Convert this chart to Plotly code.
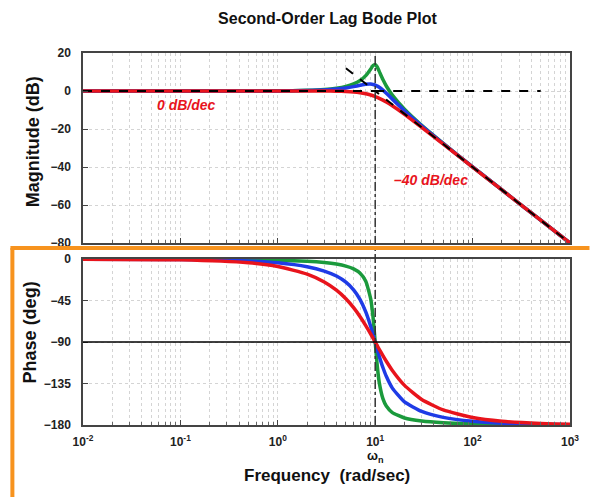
import plotly.graph_objects as go

# ---------------- data ----------------
freq = [0.01, 0.1, 0.5, 1, 2, 3, 4, 5, 6, 7, 8, 9, 9.5, 10, 10.5, 11, 12, 13,
        15, 20, 30, 50, 100, 200, 500, 1000]

mag_green = [0, 0, 0.02, 0.09, 0.35, 0.80, 1.48, 2.42, 3.73, 5.53, 8.09, 11.64,
             13.41, 13.98, 12.63, 10.34, 6.00, 2.65, -2.18, -9.62, -18.09, -27.6,
             -39.9, -52.0, -67.96, -80.0]
mag_blue = [0, 0, 0.02, 0.07, 0.26, 0.59, 1.06, 1.64, 2.32, 3.01, 3.53, 3.63,
            3.45, 3.10, 2.59, 1.96, 0.46, -1.15, -4.26, -10.40, -18.35, -27.70,
            -39.93, -52.02, -67.96, -80.0]
mag_red = [0, 0, 0, 0, 0, -0.02, -0.08, -0.22, -0.47, -0.87, -1.41, -2.10,
           -2.50, -2.92, -3.37, -3.83, -4.79, -5.78, -7.76, -12.26, -19.12,
           -27.96, -40.0, -52.04, -67.96, -80.0]

phase_green = [-0.01, -0.11, -0.57, -1.16, -2.39, -3.77, -5.44, -7.60, -10.62,
               -15.35, -23.96, -43.45, -62.8, -90.0, -116.0, -133.7, -151.4,
               -159.4, -166.5, -172.4, -175.7, -177.6, -178.8, -179.43, -179.77,
               -179.89]
phase_blue = [-0.04, -0.40, -2.0, -4.04, -8.3, -13.0, -18.4, -25.0, -33.3, -43.9,
              -57.3, -73.2, -81.7, -90.0, -97.9, -105.3, -117.65, -127.2, -140.0,
              -155.0, -165.3, -171.7, -175.96, -178.0, -179.2, -179.6]
phase_red = [-0.08, -0.80, -4.0, -8.05, -16.3, -24.8, -33.7, -43.0, -52.7, -62.5,
             -72.2, -81.4, -85.8, -90.0, -94.0, -97.8, -104.7, -110.8, -120.8,
             -137.0, -152.3, -163.7, -171.95, -176.0, -178.4, -179.2]

asym_w = [0.01, 10, 1000]
asym_db = [0, 0, -80]
flat_ext_w = [10, 500]
flat_ext_db = [0, 0]
slope_ext_w = [5, 10]
slope_ext_db = [12, 0]

wn = 10
x_tickvals = [0.01, 0.1, 1, 10, 100, 1000]
x_ticktext = ["10<sup>-2</sup>", "10<sup>-1</sup>", "10<sup>0</sup>",
              "10<sup>1</sup>", "10<sup>2</sup>", "10<sup>3</sup>"]
mag_ticks = [20, 0, -20, -40, -60, -80]
phase_ticks = [0, -45, -90, -135, -180]

# ---------------- styling ----------------
GREEN = "#1b9a3c"
BLUE = "#1f3be6"
RED = "#e8141c"
ORANGE = "#f7931e"
FONT = "Liberation Sans"
LW = 3.5

fig = go.Figure()

for y, c in [(mag_green, GREEN), (mag_blue, BLUE), (mag_red, RED)]:
    fig.add_trace(go.Scatter(x=freq, y=y, mode="lines", xaxis="x", yaxis="y",
                             line=dict(color=c, width=LW, shape="spline", smoothing=0.5),
                             showlegend=False, hoverinfo="skip"))
for xs, ys in [(asym_w, asym_db), (flat_ext_w, flat_ext_db), (slope_ext_w, slope_ext_db)]:
    fig.add_trace(go.Scatter(x=xs, y=ys, mode="lines", xaxis="x", yaxis="y",
                             line=dict(color="black", width=2, dash="dash"),
                             showlegend=False, hoverinfo="skip"))

for y, c in [(phase_green, GREEN), (phase_blue, BLUE), (phase_red, RED)]:
    fig.add_trace(go.Scatter(x=freq, y=y, mode="lines", xaxis="x2", yaxis="y2",
                             line=dict(color=c, width=LW, shape="spline", smoothing=0.5),
                             showlegend=False, hoverinfo="skip"))

grid = dict(showgrid=True, gridcolor="#d4d4d4", griddash="dot", gridwidth=1)
axis_common = dict(showline=True, linecolor="#444", linewidth=1.5, mirror=True,
                   ticks="inside", ticklen=5, tickcolor="#444", zeroline=False,
                   tickfont=dict(family=FONT, size=12, color="#222", weight="bold"),
                   **grid)
minor_x = dict(dtick="D1", showgrid=True, gridcolor="#d4d4d4", griddash="dot",
               ticks="inside", ticklen=3, tickcolor="#666")

fig.update_layout(
    width=591, height=497,
    margin=dict(l=83, r=19, t=53, b=72),
    paper_bgcolor="white", plot_bgcolor="white",
    title=dict(text="Second-Order Lag Bode Plot", x=0.554, xanchor="center",
               y=0.963, yanchor="middle",
               font=dict(family=FONT, size=16, color="#111", weight="bold")),
    xaxis=dict(type="log", range=[-2, 3], domain=[0, 1], anchor="y",
               tickvals=x_tickvals, ticktext=x_ticktext, showticklabels=False,
               minor=minor_x, **axis_common),
    yaxis=dict(range=[-80, 20], domain=[0.489, 1], anchor="x",
               tickvals=mag_ticks, ticklabelstandoff=8, **axis_common),
    xaxis2=dict(type="log", range=[-2, 3], domain=[0, 1], anchor="y2",
                tickvals=x_tickvals, ticktext=x_ticktext, minor=minor_x,
                ticklabelstandoff=5, **axis_common),
    yaxis2=dict(range=[-180, 0], domain=[0, 0.446], anchor="x2",
                tickvals=phase_ticks, ticklabelstandoff=8, **axis_common),
)

# -90 deg reference line
fig.add_shape(type="line", xref="x2 domain", x0=0, x1=1, yref="y2", y0=-90, y1=-90,
              line=dict(color="black", width=1.5), layer="above")
# natural frequency dash-dot line
fig.add_shape(type="line", xref="x2", x0=wn, x1=wn, yref="paper", y0=0, y1=1,
              line=dict(color="#333", width=1.5, dash="dashdot"), layer="above")

# orange frame decoration
fig.add_shape(type="line", xref="paper", yref="paper", x0=-0.149, x1=1.04,
              y0=0.476, y1=0.476, line=dict(color=ORANGE, width=4), layer="above")
fig.add_shape(type="line", xref="paper", yref="paper", x0=-0.145, x1=-0.145,
              y0=0.476, y1=-0.2, line=dict(color=ORANGE, width=4), layer="above")

ann_font_red = dict(family=FONT, size=14, color=RED, weight="bold", style="italic")
fig.add_annotation(text="0 dB/dec", x=-0.94, y=-7.5, xref="x", yref="y",
                   xanchor="center", yanchor="middle",
                   showarrow=False, font=ann_font_red)
fig.add_annotation(text="–40 dB/dec", x=1.57, y=-47, xref="x", yref="y",
                   xanchor="center", yanchor="middle",
                   showarrow=False, font=ann_font_red)

title_font = dict(family=FONT, size=18, color="#111", weight="bold")
fig.add_annotation(text="Magnitude (dB)", x=-0.102, y=0.761, xref="paper", yref="paper",
                   xanchor="center", yanchor="middle",
                   textangle=-90, showarrow=False, font=title_font)
fig.add_annotation(text="Phase (deg)", x=-0.108, y=0.25, xref="paper", yref="paper",
                   xanchor="center", yanchor="middle",
                   textangle=-90, showarrow=False, font=title_font)
fig.add_annotation(text="Frequency  (rad/sec)", x=0.5, y=-0.137, xref="paper", yref="paper",
                   xanchor="center", yanchor="middle",
                   showarrow=False, font=dict(family=FONT, size=17, color="#111", weight="bold"))
fig.add_annotation(text="ω<sub>n</sub>", x=1, y=-0.084, xref="x2", yref="paper",
                   xanchor="center", yanchor="middle",
                   showarrow=False, font=dict(family=FONT, size=13, color="#111", weight="bold"))

fig.write_html("out.html")
